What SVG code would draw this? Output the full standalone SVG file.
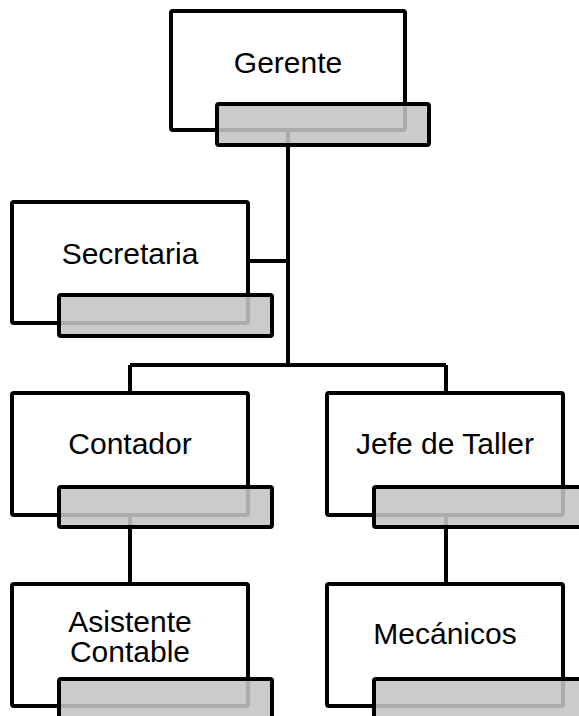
<svg xmlns="http://www.w3.org/2000/svg" width="579" height="716" viewBox="0 0 579 716">
<style>
.box{fill:#ffffff;stroke:#000000;stroke-width:4;}
.bar{fill:#c4c4c4;fill-opacity:0.88;stroke:#000000;stroke-width:4;}
.lbl{font-family:"Liberation Sans",Arial,sans-serif;font-size:30px;fill:#000000;text-anchor:middle;}
.con{stroke:#000000;stroke-width:4;fill:none;}
</style>
<rect width="579" height="716" fill="#ffffff"/>
<g id="connectors">
<path class="con" d="M288,130 V365"/>
<path class="con" d="M248,261 H288"/>
<path class="con" d="M130,365 H446"/>
<path class="con" d="M130,365 V393"/>
<path class="con" d="M446,365 V393"/>
<path class="con" d="M130,515 V584"/>
<path class="con" d="M446,515 V584"/>
</g>
<g id="gerente">
<rect class="box" x="171" y="11" width="234" height="119" rx="2"/>
<rect class="bar" x="217" y="104" width="212" height="41" rx="2"/>
<text class="lbl" x="288" y="73">Gerente</text>
</g>
<g id="secretaria">
<rect class="box" x="12" y="202" width="236" height="121" rx="2"/>
<rect class="bar" x="59" y="295" width="213" height="41" rx="2"/>
<text class="lbl" x="130" y="264">Secretaria</text>
</g>
<g id="contador">
<rect class="box" x="12" y="393" width="236" height="122" rx="2"/>
<rect class="bar" x="59" y="487" width="213" height="40" rx="2"/>
<text class="lbl" x="130" y="454">Contador</text>
</g>
<g id="jefe">
<rect class="box" x="327" y="393" width="236" height="122" rx="2"/>
<rect class="bar" x="374" y="487" width="213" height="40" rx="2"/>
<text class="lbl" x="445" y="454">Jefe de Taller</text>
</g>
<g id="asistente">
<rect class="box" x="12" y="584" width="236" height="122" rx="2"/>
<rect class="bar" x="59" y="679" width="213" height="41" rx="2"/>
<text class="lbl" x="130" y="632">Asistente</text>
<text class="lbl" x="130" y="662">Contable</text>
</g>
<g id="mecanicos">
<rect class="box" x="327" y="584" width="236" height="122" rx="2"/>
<rect class="bar" x="374" y="679" width="213" height="41" rx="2"/>
<text class="lbl" x="445" y="644">Mecánicos</text>
</g>
</svg>
